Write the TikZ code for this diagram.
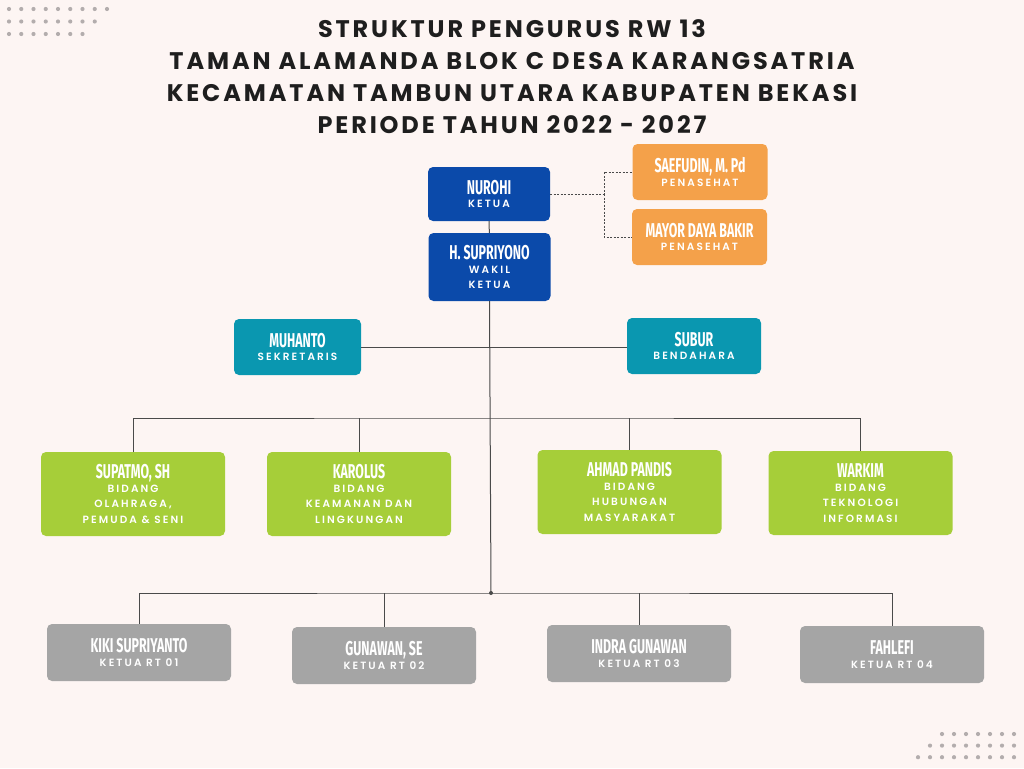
\documentclass[tikz,border=0pt]{standalone}
\usepackage{fontspec}
\setmainfont{Poppins}
\newfontfamily\namefont[FakeStretch=0.62]{Fira Sans}
\newfontfamily\rolefont[LetterSpace=20, UprightFont=* SemiBold]{Poppins}
\newfontfamily\titlefont[LetterSpace=12]{Poppins}
\usetikzlibrary{positioning,calc}
\definecolor{cBg}{HTML}{FDF5F3}
\definecolor{cTitle}{HTML}{1E1E1E}
\definecolor{cKetua}{HTML}{0B4AAA}
\definecolor{cPen}{HTML}{F4A14A}
\definecolor{cSek}{HTML}{0A97B0}
\definecolor{cBid}{HTML}{A6CE39}
\definecolor{cRT}{HTML}{A5A5A5}
\definecolor{cLine}{HTML}{4A4A4A}
\definecolor{cDot}{HTML}{B3ADAD}
\tikzset{
  box/.style={rounded corners=5pt, align=center, text=white, inner sep=0pt,
    font=\rolefont\fontsize{10.5}{15.5}\selectfont},
  ketua/.style={box, fill=cKetua, minimum width=122pt},
  penasehat/.style={box, fill=cPen, minimum width=135pt, minimum height=56pt},
  sekben/.style={box, fill=cSek, minimum width=130pt, minimum height=56pt},
  bidang/.style={box, fill=cBid, minimum width=184pt, minimum height=84pt},
  rt/.style={box, fill=cRT, minimum width=184pt, minimum height=57pt},
  conn/.style={draw=cLine, line width=1pt},
  advline/.style={conn, dash pattern=on 2pt off 1.5pt},
}
\newcommand{\nm}[1]{{\namefont\bfseries\fontsize{20}{20}\selectfont #1}\\[-2pt]}

\begin{document}
\begin{tikzpicture}[x=1pt, y=-1pt]
    \useasboundingbox[fill=cBg] (0,0) rectangle (1024,768);
    % --- dots ---
    \foreach \r/\n in {0/9,1/8,2/7}
      \foreach \i in {1,...,\n}
        \fill[cDot] ({9+12.25*(\i-1)},{9+12.5*\r}) circle (2.1pt);
    \foreach \r/\n in {0/7,1/8,2/9}
      \foreach \i in {1,...,\n}
        \fill[cDot] ({1014-12*(\i-1)},{734+11.6*\r}) circle (2.1pt);
    % --- title ---
    \node[text=cTitle, align=center, font=\titlefont\bfseries\fontsize{24}{32}\selectfont]
      (title) at (512,77) {STRUKTUR PENGURUS RW 13\\
      TAMAN ALAMANDA BLOK C DESA KARANGSATRIA\\
      KECAMATAN TAMBUN UTARA KABUPATEN BEKASI\\
      PERIODE TAHUN 2022 - 2027};
    % --- ketua ---
    \node[ketua, minimum height=54pt] (ketua) at (489,194) {\nm{NUROHI}KETUA};
    \node[ketua, minimum height=68pt] (wakil) at (489.5,267) {\nm{H. SUPRIYONO}WAKIL\\KETUA};
    \node[penasehat] (pen1) at (700,172) {\nm{SAEFUDIN, M. Pd}PENASEHAT};
    \node[penasehat] (pen2) at (699.5,237) {\nm{MAYOR DAYA BAKIR}PENASEHAT};
    \coordinate (jAdv) at (604,194);
    \draw[advline] (ketua.east) -- (jAdv) |- (pen1.west);
    \draw[advline] (jAdv) |- (pen2.west);
    \draw[conn] (ketua) -- (wakil);
    % --- sekretaris / bendahara ---
    \node[sekben, minimum width=127pt] (sekr) at (297.5,347) {\nm{MUHANTO}SEKRETARIS};
    \node[sekben, minimum width=134pt] (bend) at (694,346) {\nm{SUBUR}BENDAHARA};
    \draw[conn] (sekr.east) -- (sekr.east -| bend.west);
    % --- bidang ---
    \node[bidang] (bid1) at (133,494) {\nm{SUPATMO, SH}BIDANG\\OLAHRAGA,\\PEMUDA \& SENI};
    \node[bidang] (bid2) at (359,494) {\nm{KAROLUS}BIDANG\\KEAMANAN DAN\\LINGKUNGAN};
    \node[bidang] (bid3) at (629.5,492) {\nm{AHMAD PANDIS}BIDANG\\HUBUNGAN\\MASYARAKAT};
    \node[bidang] (bid4) at (860.5,493) {\nm{WARKIM}BIDANG\\TEKNOLOGI\\INFORMASI};
    \coordinate (jBid) at (491,418);
    \draw[conn] (bid1.north) |- (jBid) -| (bid4.north);
    \draw[conn] (bid2.north) -- (bid2.north |- jBid);
    \draw[conn] (bid3.north) -- (bid3.north |- jBid);
    % --- ketua RT ---
    \node[rt] (rt1) at (139,652.5) {\nm{KIKI SUPRIYANTO}KETUA RT 01};
    \node[rt] (rt2) at (384,655.5) {\nm{GUNAWAN, SE}KETUA RT 02};
    \node[rt] (rt3) at (639,653.5) {\nm{INDRA GUNAWAN}KETUA RT 03};
    \node[rt] (rt4) at (892,654.5) {\nm{FAHLEFI}KETUA RT 04};
    \coordinate (jRT) at (491,593);
    \draw[conn] (rt1.north) |- (jRT) -| (rt4.north);
    \draw[conn] (rt2.north) -- (rt2.north |- jRT);
    \draw[conn] (rt3.north) -- (rt3.north |- jRT);
    \draw[conn] (wakil.south) -- (jRT);
    \fill[cLine] (jRT) circle (2pt);
\end{tikzpicture}
\end{document}
